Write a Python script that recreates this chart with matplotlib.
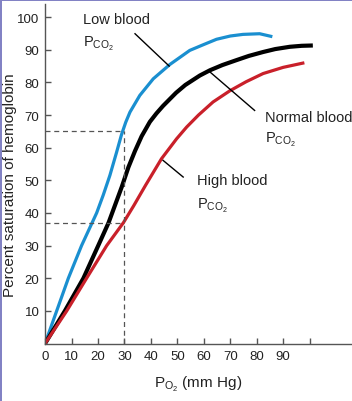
import matplotlib
matplotlib.use("Agg")
import matplotlib.pyplot as plt
from matplotlib.patches import Rectangle

plt.rcParams['font.family'] = ['Liberation Sans', 'DejaVu Sans']
plt.rcParams['mathtext.fontset'] = 'custom'
plt.rcParams['mathtext.rm'] = 'Liberation Sans'

# Oxygen-hemoglobin dissociation curves
low_x = [0, 4.4, 8.8, 13.8, 19.5, 22, 24.5, 27, 28.9, 30.5, 32.1, 35.8, 40.9, 47.2,
         54.7, 60, 64.8, 70, 74.8, 81.1, 85.9]
low_y = [0, 10, 20, 30, 40, 45.5, 51.5, 58.5, 64, 67.8, 70.9, 76, 81.1, 85.5,
         89.8, 91.6, 93.2, 94.2, 94.7, 94.9, 94]

normal_x = [0, 7.5, 14.5, 20.1, 24, 26.5, 29, 31.5, 34, 36.5, 39.6, 42.1, 44.6,
            49.5, 53, 58.5, 62.3, 67, 72.3, 77, 82.4, 87, 92.5, 97, 101.2]
normal_y = [0, 10, 20, 30, 37, 42.5, 48, 54, 59, 63.5, 67.9, 70.5, 72.8,
            76.8, 79.2, 82.1, 83.7, 85.3, 86.8, 88.1, 89.3, 90.2, 90.9, 91.2, 91.3]

high_x = [0, 8.2, 15.7, 23.3, 29.6, 33.5, 38, 44, 49.7, 53.5, 58, 63.5,
          69.8, 76, 82.4, 90, 98]
high_y = [0, 10, 20, 30, 37, 42.2, 48.5, 56.6, 62.7, 66.3, 70, 74,
          77.4, 80.2, 82.7, 84.6, 86]

x_ticks = [0, 10, 20, 30, 40, 50, 60, 70, 80, 90, 100]
x_tick_labels = ['0', '10', '20', '30', '40', '50', '60', '70', '80', '90', '']
y_ticks = [10, 20, 30, 40, 50, 60, 70, 80, 90, 100]

# reference lines at PO2 = 30
ref_x = 30
ref_low = 65
ref_high = 37

fig = plt.figure(figsize=(3.52, 4.02), dpi=100)
ax = fig.add_axes([0.128, 0.143, 0.872, 0.8445])

curve = dict(solid_capstyle='butt', solid_joinstyle='round')
ax.plot(low_x, low_y, color='#1a8fd0', lw=2.3, **curve)
ax.plot(normal_x, normal_y, color='black', lw=3.0, **curve)
ax.plot(high_x, high_y, color='#c9202a', lw=2.3, **curve)

dash = dict(color='#555555', lw=0.9, dashes=(4, 3))
ax.plot([0, ref_x], [ref_low, ref_low], **dash)
ax.plot([0, ref_x], [ref_high, ref_high], **dash)
ax.plot([ref_x, ref_x], [0, ref_low], **dash)

# labels with leader lines
ax.plot([34, 46.9], [94.9, 85], color='black', lw=1)
ax.plot([62.3, 79.2], [83.2, 71.4], color='black', lw=1)
ax.plot([44.6, 52.2], [56.1, 51], color='black', lw=1)

lab = dict(fontsize=10.5, ha='left', va='center', color='#222222')
pco2 = r'$\mathregular{P_{CO_2}}$'
ax.text(14.3, 99.5, 'Low blood', **lab)
ax.text(14.3, 92.0, pco2, **lab)
ax.text(83.3, 69.5, 'Normal blood', **lab)
ax.text(83.3, 62.7, pco2, **lab)
ax.text(57.5, 50.0, 'High blood', **lab)
ax.text(57.5, 42.4, pco2, **lab)

ax.set_xlim(0, 116)
ax.set_ylim(0, 104)
ax.set_xticks(x_ticks)
ax.set_xticklabels(x_tick_labels)
ax.set_yticks(y_ticks)
ax.tick_params(direction='in', length=4, width=1, color='#555555',
               labelsize=9.5, labelcolor='#222222')
ax.tick_params(axis='x', pad=5)
ax.tick_params(axis='y', pad=4)

for s in ['top', 'right']:
    ax.spines[s].set_visible(False)
for s in ['left', 'bottom']:
    ax.spines[s].set_color('#555555')
    ax.spines[s].set_linewidth(1)

ax.set_xlabel(r'$\mathregular{P_{O_2}}$ (mm Hg)', fontsize=11, color='#222222', labelpad=8)
ax.set_ylabel('Percent saturation of hemoglobin', fontsize=11, color='#222222')
ax.yaxis.set_label_coords(-0.093, 0.47)

# thin frame on left and top of the picture
fig.add_artist(Rectangle((0, 0), 2 / 352, 1, transform=fig.transFigure,
                         color='#8282c4', lw=0))
fig.add_artist(Rectangle((0, 1 - 1.5 / 402), 1, 1.5 / 402, transform=fig.transFigure,
                         color='#8282c4', lw=0))

fig.savefig('out.png', dpi=100)
